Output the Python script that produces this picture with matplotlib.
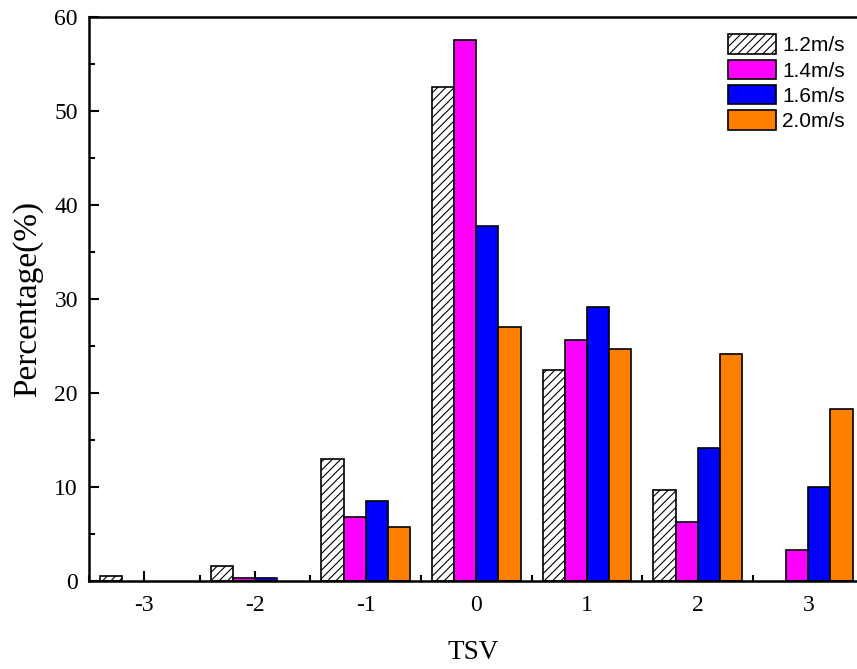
import matplotlib
matplotlib.use("Agg")
import matplotlib.pyplot as plt
from matplotlib.ticker import MultipleLocator
import numpy as np

tsv = [-3, -2, -1, 0, 1, 2, 3]
speeds = ["1.2m/s", "1.4m/s", "1.6m/s", "2.0m/s"]
v12 = [0.5, 1.6, 13.0, 52.5, 22.5, 9.7, 0.0]
v14 = [0.0, 0.3, 6.85, 57.5, 25.6, 6.3, 3.3]
v16 = [0.0, 0.3, 8.5, 37.8, 29.2, 14.1, 10.0]
v20 = [0.0, 0.0, 5.7, 27.0, 24.7, 24.1, 18.3]

colors = ["white", "#ff00ff", "#0000ff", "#ff8000"]
hatches = ["////", None, None, None]

plt.rcParams["hatch.color"] = "#505050"
plt.rcParams["hatch.linewidth"] = 0.8

fig = plt.figure(figsize=(8.57, 6.69), dpi=100)
ax = fig.add_axes([0.1039, 0.1315, 0.8961, 0.8431])

x = np.array(tsv, dtype=float)
width = 0.2
offsets = [-0.3, -0.1, 0.1, 0.3]
for vals, off, c, h, lab in zip([v12, v14, v16, v20], offsets, colors, hatches, speeds):
    vals = np.array(vals)
    keep = vals > 0  # empty categories get no bar outline
    ax.bar(x[keep] + off, vals[keep], width, color=c, edgecolor="black",
           linewidth=1.2, hatch=h, label=lab)

ax.set_xlim(-3.5, 3.44)
ax.set_ylim(0, 60)
ax.set_xticks(tsv)
ax.set_xticklabels([str(t) for t in tsv])
ax.xaxis.set_minor_locator(MultipleLocator(0.5))
ax.yaxis.set_major_locator(MultipleLocator(10))
ax.yaxis.set_minor_locator(MultipleLocator(5))
ax.tick_params(axis="both", which="both", direction="in", width=1.5)
ax.tick_params(axis="both", which="major", length=7, labelsize=17)
ax.tick_params(axis="x", which="major", pad=10)
ax.tick_params(axis="y", which="major", pad=8)
ax.tick_params(axis="both", which="minor", length=4)
for lbl in ax.get_xticklabels() + ax.get_yticklabels():
    lbl.set_fontfamily("Liberation Serif")
ax.tick_params(axis="x", which="both", top=False)
ax.tick_params(axis="y", which="both", right=False)
for s in ax.spines.values():
    s.set_linewidth(1.8)
ax.spines["right"].set_visible(False)

ax.set_xlabel("TSV", fontsize=19.5, family="Liberation Serif", labelpad=17)
ax.set_ylabel("Percentage(%)", fontsize=24, family="Liberation Serif", labelpad=8)

leg = ax.legend(loc="upper right", bbox_to_anchor=(1.003, 0.995), frameon=False,
                prop={"family": "Liberation Sans", "size": 15},
                handlelength=2.3, handleheight=1.05, handletextpad=0.3,
                labelspacing=0.22, borderaxespad=0.3)

fig.savefig("out.png", dpi=100)
